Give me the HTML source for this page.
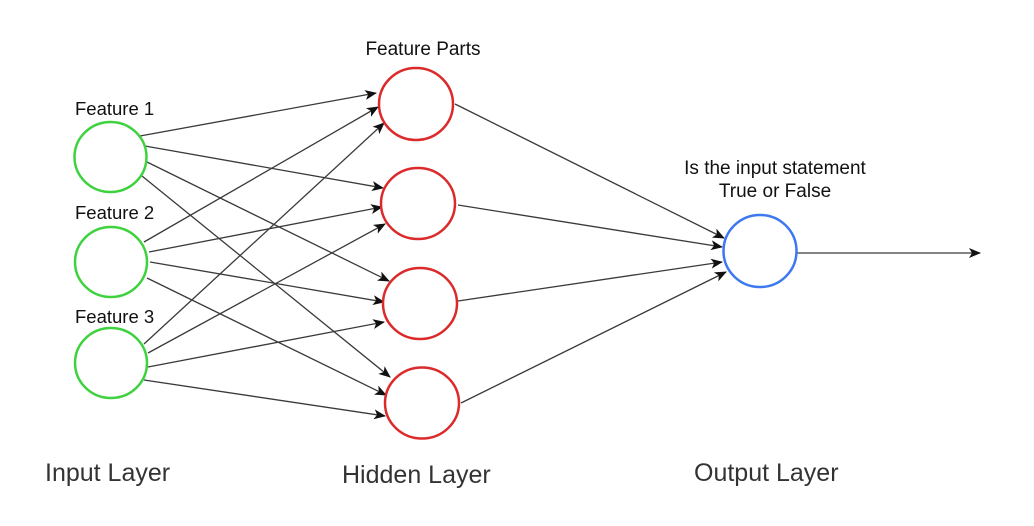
<!DOCTYPE html>
<html><head><meta charset="utf-8"><style>
html,body{margin:0;padding:0;background:#fff;}
svg{display:block;font-family:"Liberation Sans",Arial,sans-serif;}
</style></head><body>
<svg width="1034" height="526" viewBox="0 0 1034 526" xmlns="http://www.w3.org/2000/svg">
<defs>
<marker id="a" markerWidth="12" markerHeight="10" refX="11" refY="5" orient="auto" markerUnits="userSpaceOnUse">
<path d="M0,0 L12,5 L0,10 L3,5 Z" fill="#111"/>
</marker>
</defs>
<g stroke="#3a3a3a" stroke-width="1.3" fill="none" marker-end="url(#a)">
<line x1="140" y1="136" x2="376" y2="93"/>
<line x1="145" y1="146" x2="383" y2="188"/>
<line x1="147" y1="162" x2="389" y2="281"/>
<line x1="142" y1="176" x2="390" y2="377"/>
<line x1="144" y1="242" x2="378" y2="107"/>
<line x1="149" y1="252" x2="382" y2="207"/>
<line x1="150" y1="262" x2="384" y2="302"/>
<line x1="147" y1="278" x2="386" y2="395"/>
<line x1="144" y1="344" x2="384" y2="123"/>
<line x1="148" y1="353" x2="385" y2="224"/>
<line x1="148" y1="367" x2="384" y2="322"/>
<line x1="144" y1="380" x2="385" y2="416"/>
<line x1="455" y1="104" x2="724" y2="238"/>
<line x1="458" y1="205" x2="722" y2="247"/>
<line x1="458" y1="301" x2="722" y2="262"/>
<line x1="461" y1="403" x2="726" y2="272"/>
<line x1="797" y1="253" x2="980" y2="253"/>
</g>
<g fill="#fff" stroke-width="2.5">
<ellipse cx="110.5" cy="157" rx="36" ry="35" stroke="#3ed23e"/>
<ellipse cx="111" cy="262" rx="36" ry="35" stroke="#3ed23e"/>
<ellipse cx="111" cy="363" rx="36" ry="35" stroke="#3ed23e"/>
<ellipse cx="416" cy="104" rx="37" ry="36" stroke="#dc2a2a"/>
<ellipse cx="418" cy="203.5" rx="37" ry="35.5" stroke="#dc2a2a"/>
<ellipse cx="420" cy="303.5" rx="37" ry="35.5" stroke="#dc2a2a"/>
<ellipse cx="422" cy="403" rx="37" ry="35.5" stroke="#dc2a2a"/>
<ellipse cx="760" cy="251" rx="36.5" ry="36" stroke="#3c78f0"/>
</g>
<g fill="#111" font-size="18.5">
<text x="75" y="115">Feature 1</text>
<text x="75" y="219">Feature 2</text>
<text x="75" y="323">Feature 3</text>
<text x="423" y="55" font-size="19" text-anchor="middle">Feature Parts</text>
<text x="775" y="174" font-size="19" text-anchor="middle">Is the input statement</text>
<text x="775" y="197" font-size="19" text-anchor="middle">True or False</text>
</g>
<g fill="#333" font-size="25">
<text x="45" y="481">Input Layer</text>
<text x="342" y="483">Hidden Layer</text>
<text x="694" y="481">Output Layer</text>
</g>
</svg>
</body></html>
